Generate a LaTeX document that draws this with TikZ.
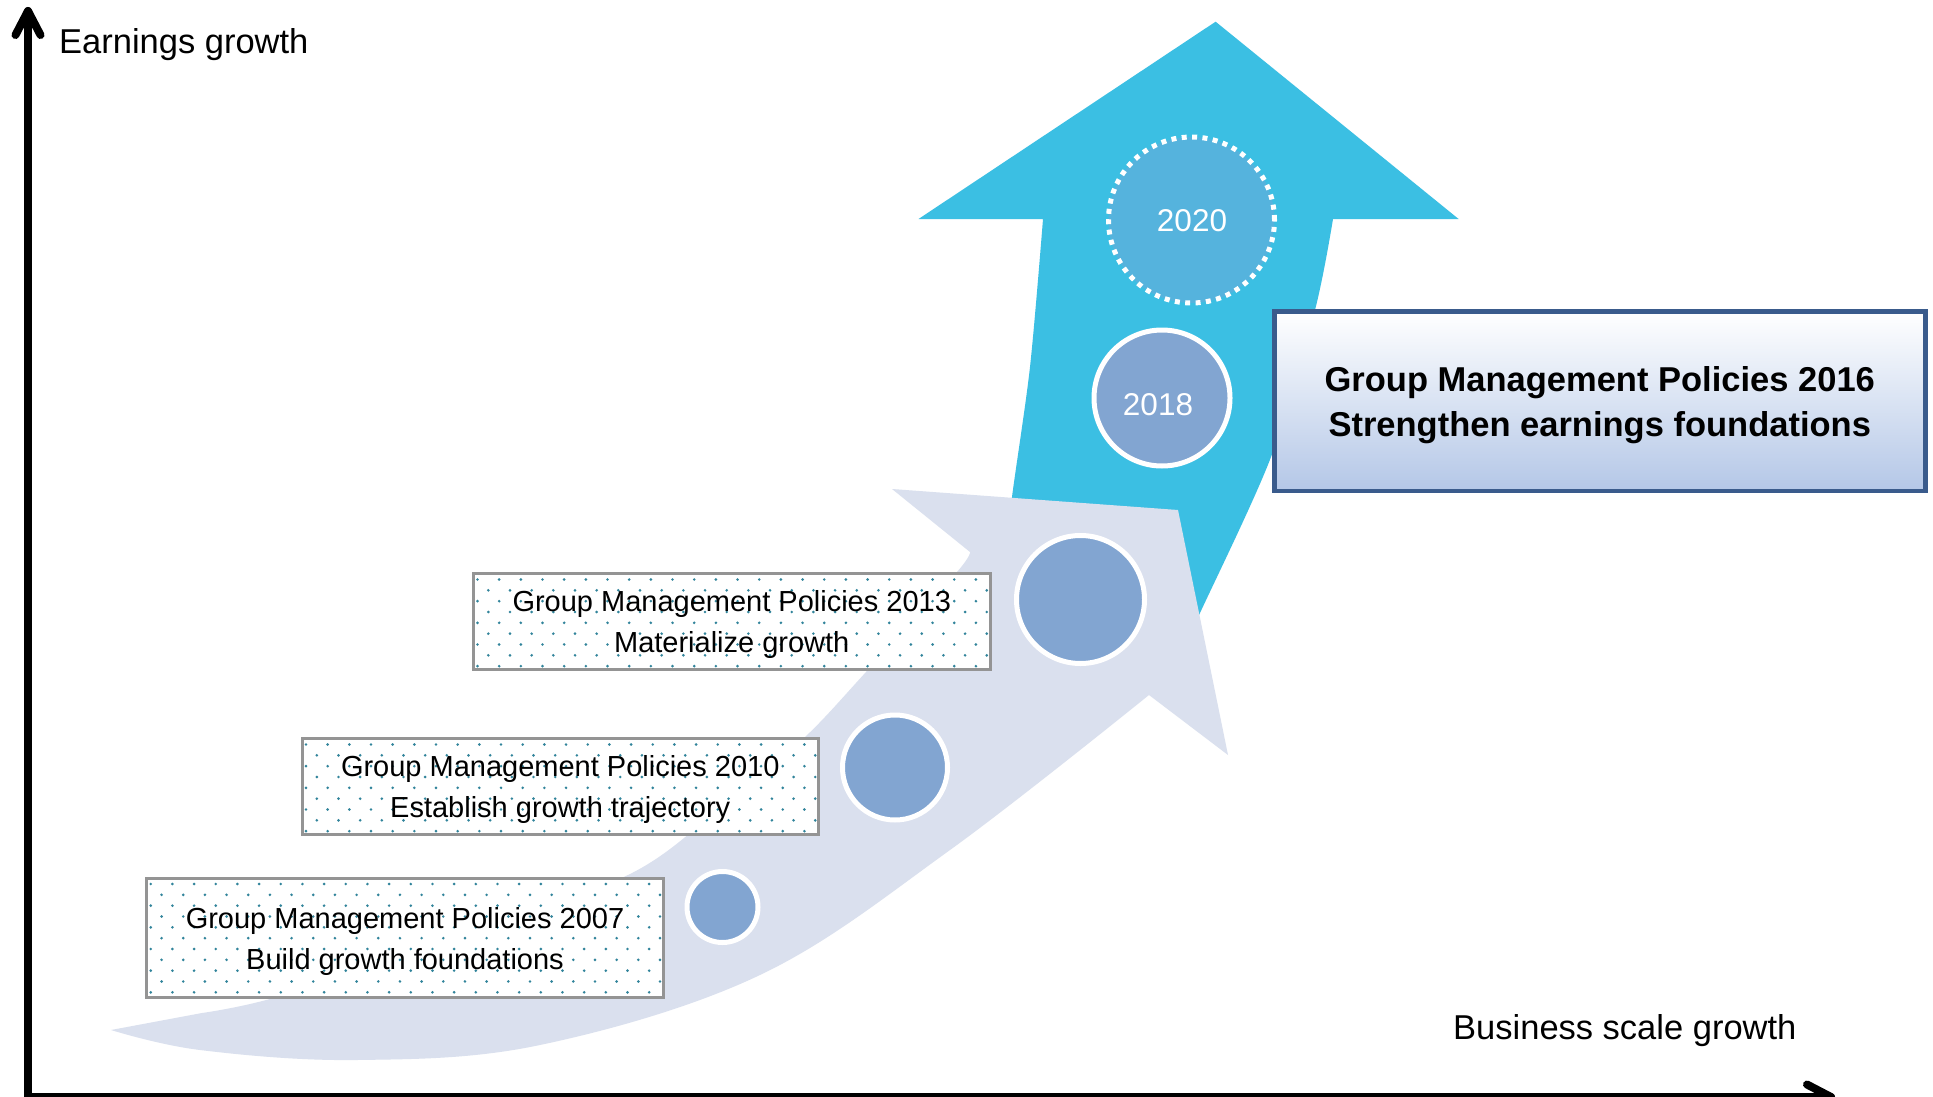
\documentclass[tikz,border=0pt]{standalone}
\usepackage{fontspec}
\setmainfont{Liberation Sans}
\usetikzlibrary{calc}

\definecolor{arrowcyan}{RGB}{59,191,227}
\definecolor{arrowgray}{RGB}{218,224,238}
\definecolor{ballblue}{RGB}{130,165,209}
\definecolor{targetblue}{RGB}{85,179,221}
\definecolor{boxline}{RGB}{148,148,148}
\definecolor{dotteal}{RGB}{49,132,155}
\definecolor{policyline}{RGB}{58,91,140}
\definecolor{policybottom}{RGB}{180,199,231}

% strut that lowers two-line box texts a little
\newcommand{\boxstrut}[1]{\rule{0pt}{#1}}

\begin{document}
\begin{tikzpicture}[x=1pt,y=-1pt,
  axisline/.style={line width=8pt, line cap=round, line join=round, black},
  axislabel/.style={font=\fontsize{34.5}{41}\selectfont, inner sep=0pt, anchor=base west},
  dotbox/.style={draw=boxline, line width=3pt, fill=white, minimum width=516.5pt,
    inner sep=0pt, align=center, font=\fontsize{29}{41}\selectfont,
    path picture={
      \foreach \dotrow in {0,...,11}{
        \foreach \dotcol in {0,...,24}{
          \fill[dotteal] ([xshift={\dotcol*21.67pt+mod(\dotrow,2)*10.83pt+4pt},
                          yshift={-\dotrow*10.83pt-6pt}]path picture bounding box.north west)
                          circle (1.45pt);
        }
      }
    }},
  ball/.style={circle, draw=white, line width=5pt, fill=ballblue, inner sep=0pt},
  target/.style={circle, draw=white, line width=5pt, dash pattern=on 5pt off 5.4pt,
    fill=targetblue, inner sep=0pt},
  yeartext/.style={text=white, font=\fontsize{31.5}{36}\selectfont, inner sep=0pt},
  policy/.style={draw=policyline, line width=4.5pt, top color=white, bottom color=policybottom,
    minimum width=651pt, minimum height=179.5pt, inner sep=0pt, align=center,
    font=\fontsize{34.5}{45}\selectfont\bfseries}
]
\useasboundingbox (0,0) rectangle (1933,1097);
\fill[white] (0,0) rectangle (1933,1097);

% upward cyan arrow (behind everything)
\fill[arrowcyan] (918.5,219) -- (1215.6,21.7) -- (1458.6,219)
  -- plot[smooth] coordinates {(1333,219) (1315,310) (1271,457) (1200,613) (1185,645)}
  -- plot[smooth] coordinates {(1005,565) (1012,497) (1030,367) (1043,219)}
  -- cycle;

% milestones on the cyan arrow
\node[target, minimum size=166pt] (c2020) at (1191.5,220) {};
\node[yeartext] (t2020) at (1192,221) {2020};
\node[ball, minimum size=136pt] (c2018) at (1162,398) {};
\node[yeartext] (t2018) at (1158,405) {2018};

% curved light arrow
\fill[arrowgray] (970,552) -- (892,489) -- (1178,510) -- (1228,755)
  -- plot[smooth, tension=0.6] coordinates {(1149,695) (950,850) (760,975) (540,1045) (357,1060) (200,1050) (111,1030)}
  -- plot[smooth] coordinates {(202,1013) (270,999) (450,945) (632,873) (720,808) (805,737) (866,672) (957,572) (970,552)}
  -- cycle;

% policy boxes
\node[policy] (p2016) at (1599.75,401) {\boxstrut{33pt}Group Management Policies 2016\\Strengthen earnings foundations};
\node[dotbox, minimum height=96pt] (p2013) at (731.75,621.5) {\boxstrut{28pt}Group Management Policies 2013\\Materialize growth};
\node[dotbox, minimum height=96pt] (p2010) at (560.25,786.5) {\boxstrut{28pt}Group Management Policies 2010\\Establish growth trajectory};
\node[dotbox, minimum height=119pt] (p2007) at (405,937.5) {\boxstrut{29pt}Group Management Policies 2007\\Build growth foundations};

% milestones on the light arrow
\node[ball, minimum size=71pt] (c2007) at (722.5,907) {};
\node[ball, minimum size=105pt] (c2010) at (895,767.5) {};
\node[ball, minimum size=128pt] (c2013) at (1080.5,599.5) {};

% axes
\coordinate (origin) at (28,1097);
\coordinate (ytip) at (28,11);
\coordinate (xtip) at (1831,1097);
\draw[axisline] (ytip) -- (origin) -- (xtip);
\draw[axisline] ($(ytip)+(-12.5,24)$) -- (ytip) -- ($(ytip)+(12.5,24)$);
\draw[axisline] ($(xtip)+(-24,-12.5)$) -- (xtip) -- ($(xtip)+(-24,12.5)$);
\node[axislabel] (ylabel) at (59,54) {Earnings growth};
\node[axislabel] (xlabel) at (1453,1039) {Business scale growth};
\end{tikzpicture}
\end{document}
